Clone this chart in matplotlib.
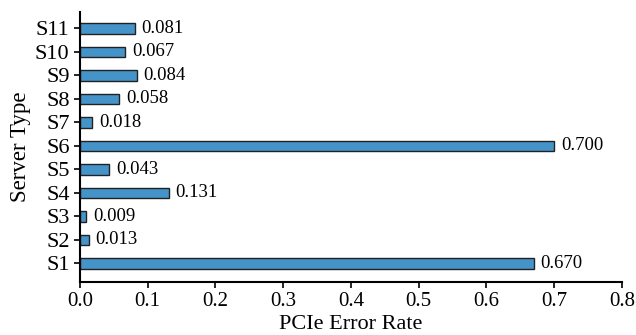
import matplotlib
matplotlib.use("Agg")
import matplotlib.pyplot as plt

plt.rcParams['font.family'] = ['Liberation Serif', 'DejaVu Serif']

servers = ["S1", "S2", "S3", "S4", "S5", "S6", "S7", "S8", "S9", "S10", "S11"]
error_rates = [0.670, 0.013, 0.009, 0.131, 0.043, 0.700, 0.018, 0.058, 0.084, 0.067, 0.081]
x_ticks = [0.0, 0.1, 0.2, 0.3, 0.4, 0.5, 0.6, 0.7, 0.8]

fig = plt.figure(figsize=(6.36, 3.35), dpi=100)
ax = fig.add_axes([0.1258, 0.159, 0.852, 0.806])
ypos = list(range(len(servers)))
ax.barh(ypos, error_rates, height=0.46, color="#4494c9", edgecolor="#222222", linewidth=1.0)
for y, v in zip(ypos, error_rates):
    ax.text(v + 0.010, y, f"{v:.3f}", va="center", ha="left", fontsize=13.5)
ax.set_yticks(ypos)
ax.set_yticklabels(servers, fontsize=16)
ax.set_xticks(x_ticks)
ax.set_xticklabels([f"{t:.1f}" for t in x_ticks], fontsize=15)
ax.set_xlim(0, 0.8)
ax.set_ylim(-0.78, 10.71)
ax.set_xlabel("PCIe Error Rate", fontsize=16, labelpad=3)
ax.set_ylabel("Server Type", fontsize=16.5, labelpad=3)
for s in ["top", "right"]:
    ax.spines[s].set_visible(False)
for s in ["left", "bottom"]:
    ax.spines[s].set_linewidth(1.5)
ax.tick_params(width=1.2, length=4)
fig.savefig("out.png", dpi=100)
